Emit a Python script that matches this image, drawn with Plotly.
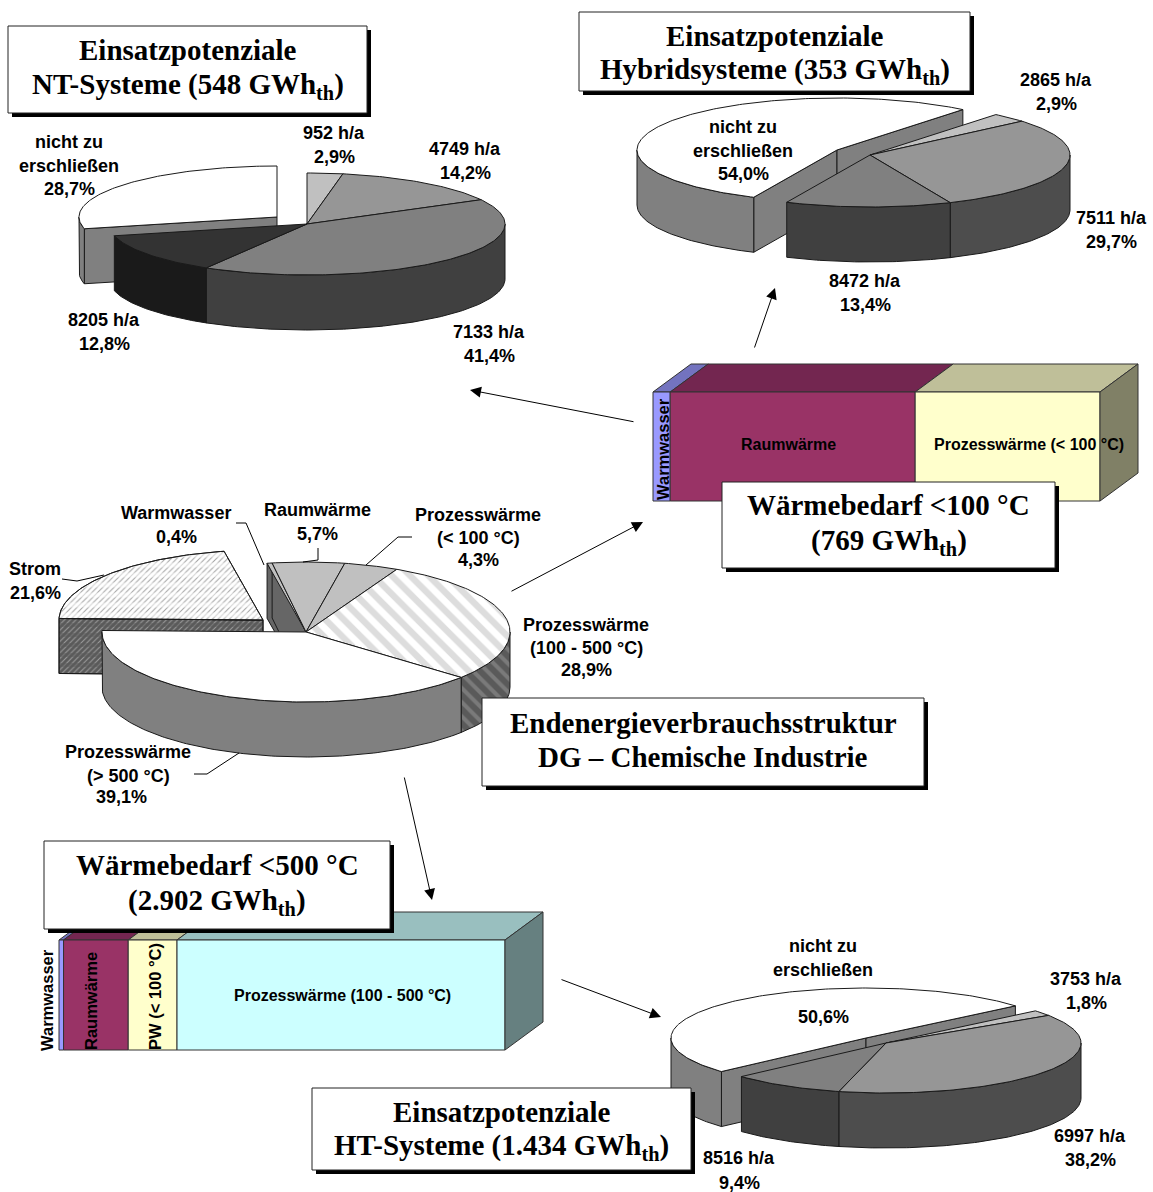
import numpy as np
import plotly.graph_objects as go

# end-use shares of the whole sector, % (clockwise from Warmwasser)
main_names = ['Warmwasser', 'Raumwärme', 'PW <100', 'PW 100-500', 'PW >500', 'Strom']
main_values = [0.4, 5.7, 4.3, 28.9, 39.1, 21.6]

# potentials, % (clockwise, last one is the pulled-out "nicht zu erschließen" slice)
nt_hours = ['952 h/a', '4749 h/a', '7133 h/a', '8205 h/a']
nt_values = [2.9, 14.2, 41.4, 12.8, 28.7]
hybrid_hours = ['2865 h/a', '7511 h/a', '8472 h/a']
hybrid_values = [2.9, 29.7, 13.4, 54.0]
ht_hours = ['3753 h/a', '6997 h/a', '8516 h/a']
ht_values = [1.8, 38.2, 9.4, 50.6]

# stacked bars use the same shares
bar100_values = main_values[:3]
bar500_values = main_values[:4]

GREY_TOP = '#c0c0c0'
EDGE = '#1a1a1a'
CLEAR = 'rgba(0,0,0,0)'

fig = go.Figure()


def poly(xs, ys, color=None, pattern=None, overlay=None, edge=EDGE, width=1):
    # repeat the first point so the outline closes too
    xs, ys = list(xs), list(ys)
    xs, ys = xs + xs[:1], ys + ys[:1]
    fig.add_trace(go.Scatter(x=xs, y=ys, mode='lines', fill='toself',
                             fillcolor=color, fillpattern=pattern,
                             line=dict(color=edge, width=width), hoverinfo='skip'))
    if overlay is not None:
        fig.add_trace(go.Scatter(x=xs, y=ys, mode='lines', fill='toself', fillcolor=CLEAR, fillpattern=overlay,
                                 line=dict(color=edge, width=width), hoverinfo='skip'))


def arc(cx, cy, rx, ry, a, b):
    t = np.radians(np.linspace(a, b, max(int(abs(b - a)), 2) + 1))
    return cx + rx * np.sin(t), cy - ry * np.cos(t)


def draw_slices(slices, cx, cy, rx, ry, depth):
    """slices are (start, end, top style, wall style), angles clockwise from 12 o'clock."""
    for a, b, top, wall in slices:
        for ang, normal in ((a, a - 90), (b, b + 90)):
            if np.cos(np.radians(normal)) < 0:
                px, py = arc(cx, cy, rx, ry, ang, ang)
                poly([cx, px[0], px[0], cx], [cy, py[0], py[0] + depth, cy + depth], **wall)
    for a, b, top, wall in slices:
        for k in (-360, 0, 360):
            lo, hi = max(a, 90 + k), min(b, 270 + k)
            if lo < hi:
                px, py = arc(cx, cy, rx, ry, lo, hi)
                poly(np.r_[px, px[::-1]], np.r_[py, py[::-1] + depth], **wall)
    for a, b, top, wall in slices:
        px, py = arc(cx, cy, rx, ry, a, b)
        poly(np.r_[cx, px], np.r_[cy, py], **top)


def pie3d(values, start, tops, walls, center, apart, rx, ry, depth=55):
    """The last value is the slice that is pulled out to the apart position."""
    edges = start + np.r_[0, np.cumsum(values)] * 3.6
    draw_slices([(edges[-2], edges[-1], tops[-1], walls[-1])], apart[0], apart[1], rx, ry, depth)
    rest = [(edges[i], edges[i + 1], tops[i], walls[i]) for i in range(len(values) - 1)]
    draw_slices(rest, center[0], center[1], rx, ry, depth)


def solid(c):
    return dict(color=c)


# main pie
stripes_top = go.scatter.Fillpattern(shape='\\', bgcolor='white', fgcolor='#bcbcbc', size=13, solidity=0.5)
stripes_wall = go.scatter.Fillpattern(shape='\\', bgcolor='#5a5a5a', fgcolor='#999999', size=10, solidity=0.4)
hatch_top = dict(pattern=go.scatter.Fillpattern(shape='/', bgcolor='white', fgcolor='#444444', size=4, solidity=0.25),
                 overlay=go.scatter.Fillpattern(shape='-', bgcolor=CLEAR, fgcolor='white', size=10, solidity=0.5))
hatch_wall = dict(pattern=go.scatter.Fillpattern(shape='/', bgcolor='#5a5a5a', fgcolor='#e0e0e0', size=4, solidity=0.25),
                  overlay=go.scatter.Fillpattern(shape='-', bgcolor=CLEAR, fgcolor='#5a5a5a', size=10, solidity=0.4))
pie3d(main_values, -11,
      [solid(GREY_TOP), solid(GREY_TOP), solid(GREY_TOP), dict(pattern=stripes_top), solid('white'), hatch_top],
      [solid('#666666'), solid('#666666'), solid('#666666'), dict(pattern=stripes_wall), solid('#808080'), hatch_wall],
      (306, 632), (263, 620), 204, 70)

# potentials
pie3d(nt_values, 0,
      [solid(GREY_TOP), solid('#969696'), solid('#808080'), solid('#333333'), solid('white')],
      [solid('#606060'), solid('#4d4d4d'), solid('#404040'), solid('#1a1a1a'), solid('#808080')],
      (307, 224), (277, 217), 198, 51)
pie3d(hybrid_values, 39,
      [solid(GREY_TOP), solid('#969696'), solid('#808080'), solid('white')],
      [solid('#606060'), solid('#4d4d4d'), solid('#404040'), solid('#808080')],
      (870, 155), (837, 150), 200, 52)
pie3d(ht_values, 50,
      [solid(GREY_TOP), solid('#969696'), solid('#808080'), solid('white')],
      [solid('#606060'), solid('#4d4d4d'), solid('#404040'), solid('#808080')],
      (886, 1043), (866, 1038), 195, 50)


def bar3d(values, x0, x1, y0, y1, fronts, tops, side, dx=38, dy=28):
    edges = x0 + np.r_[0, np.cumsum(values)] / sum(values) * (x1 - x0)
    for i in range(len(values)):
        a, b = edges[i], edges[i + 1]
        poly([a, a + dx, b + dx, b], [y0, y0 - dy, y0 - dy, y0], tops[i], edge='#333333')
        poly([a, b, b, a], [y0, y0, y1, y1], fronts[i], edge='#333333')
    poly([x1, x1 + dx, x1 + dx, x1], [y0, y0 - dy, y1 - dy, y1], side, edge='#333333')


bar3d(bar100_values, 653, 1100, 392, 501,
      ['#9999ff', '#993366', '#ffffcc'], ['#7373bf', '#732650', '#bfbf99'], '#808066')
bar3d(bar500_values, 59, 505, 940, 1050,
      ['#9999ff', '#993366', '#ffffcc', '#ccffff'], ['#7373bf', '#732650', '#bfbf99', '#99bfbf'], '#668080')


def label(lines, x, y, size=18, step=23.5, angle=0):
    for i, line in enumerate(lines):
        fig.add_annotation(x=x, y=y + i * step, text=f'<b>{line}</b>', showarrow=False,
                           textangle=angle, xanchor='center', yanchor='middle',
                           font=dict(family='Liberation Sans', size=size, color='black'))


def leader(xs, ys):
    fig.add_trace(go.Scatter(x=xs, y=ys, mode='lines', line=dict(color='black', width=1), hoverinfo='skip'))


def arrow(x0, y0, x1, y1):
    fig.add_annotation(x=x1, y=y1, ax=x0, ay=y0, xref='x', yref='y', axref='x', ayref='y', text='',
                       showarrow=True, arrowhead=2, arrowsize=2.2, arrowwidth=1, arrowcolor='black')


def box(x0, y0, x1, y1, line1, y_line1, line2, y_line2):
    fig.add_shape(type='rect', x0=x0 + 4, y0=y0 + 4, x1=x1 + 4, y1=y1 + 4, fillcolor='black', line_width=0)
    fig.add_shape(type='rect', x0=x0, y0=y0, x1=x1, y1=y1, fillcolor='white', line=dict(color='#222222', width=1))
    for line, y in ((line1, y_line1), (line2, y_line2)):
        fig.add_annotation(x=(x0 + x1) / 2, y=y, text=f'<b>{line}</b>', showarrow=False,
                           xanchor='center', yanchor='middle',
                           font=dict(family='Liberation Serif', size=29, color='black'))


# leader lines of the main pie
leader([236, 246, 264], [523, 523, 565])
leader([318, 318, 303], [548, 560, 562])
leader([412, 398, 366], [537, 537, 565])
leader([62, 77, 104], [579, 581, 575])
leader([194, 207, 239], [774, 774, 753])

# labels on the pies
label(['nicht zu', 'erschließen', '28,7%'], 69, 142)
label([nt_hours[0], '2,9%'], 334, 133)
label([nt_hours[1], '14,2%'], 465, 149)
label([nt_hours[2], '41,4%'], 489, 332)
label([nt_hours[3], '12,8%'], 104, 320)
label(['nicht zu', 'erschließen', '54,0%'], 743, 127)
label([hybrid_hours[0], '2,9%'], 1056, 80)
label([hybrid_hours[1], '29,7%'], 1111, 218)
label([hybrid_hours[2], '13,4%'], 865, 281)
label(['Warmwasser', '0,4%'], 176, 513)
label(['Raumwärme', '5,7%'], 317, 510)
label(['Prozesswärme', '(< 100 °C)', '4,3%'], 478, 515, step=22.5)
label(['Strom', '21,6%'], 35, 569)
label(['Prozesswärme', '(100 - 500 °C)', '28,9%'], 586, 625, step=22.5)
label(['Prozesswärme', '(> 500 °C)'], 128, 752)
label(['39,1%'], 121, 797)
label(['nicht zu', 'erschließen'], 823, 946)
label(['50,6%'], 823, 1017)
label([ht_hours[0], '1,8%'], 1086, 979)
label([ht_hours[1], '38,2%'], 1090, 1136)
label([ht_hours[2], '9,4%'], 739, 1158, step=25)

# labels on the bars
label(['Raumwärme'], 788, 444, size=16)
label(['Prozesswärme (< 100 °C)'], 1029, 444, size=16)
label(['Warmwasser'], 663, 449, size=16.5, angle=-90)
label(['Warmwasser'], 47, 1000, size=16.5, angle=-90)
label(['Raumwärme'], 91, 1001, size=16.5, angle=-90)
label(['PW (< 100 °C)'], 155, 997, size=16.5, angle=-90)
label(['Prozesswärme (100 - 500 °C)'], 342, 995, size=16)

arrow(635, 422, 470, 390)
arrow(754, 349, 775, 288)
arrow(510, 592, 643, 522)
arrow(404, 776, 432, 900)
arrow(560, 979, 661, 1017)

box(8, 26, 367, 113, 'Einsatzpotenziale', 50, 'NT-Systeme (548 GWh<sub>th</sub>)', 85.5)
box(579, 12, 970, 91, 'Einsatzpotenziale', 36, 'Hybridsysteme (353 GWh<sub>th</sub>)', 70.5)
box(722, 482, 1055, 568, 'Wärmebedarf &lt;100 °C', 505, '(769 GWh<sub>th</sub>)', 541.5)
box(482, 698, 924, 786, 'Endenergieverbrauchsstruktur', 723, 'DG – Chemische Industrie', 757)
box(44, 841, 390, 929, 'Wärmebedarf &lt;500 °C', 865, '(2.902 GWh<sub>th</sub>)', 901.5)
box(312, 1088, 691, 1170, 'Einsatzpotenziale', 1112, 'HT-Systeme (1.434 GWh<sub>th</sub>)', 1146.5)

fig.update_layout(width=1153, height=1192, margin=dict(l=0, r=0, t=0, b=0), showlegend=False,
                  plot_bgcolor='white', paper_bgcolor='white',
                  xaxis=dict(range=[0, 1153], visible=False, fixedrange=True),
                  yaxis=dict(range=[1192, 0], visible=False, fixedrange=True))
fig.write_html("out.html", config=dict(displayModeBar=False), post_script="document.body.style.margin='0';")
